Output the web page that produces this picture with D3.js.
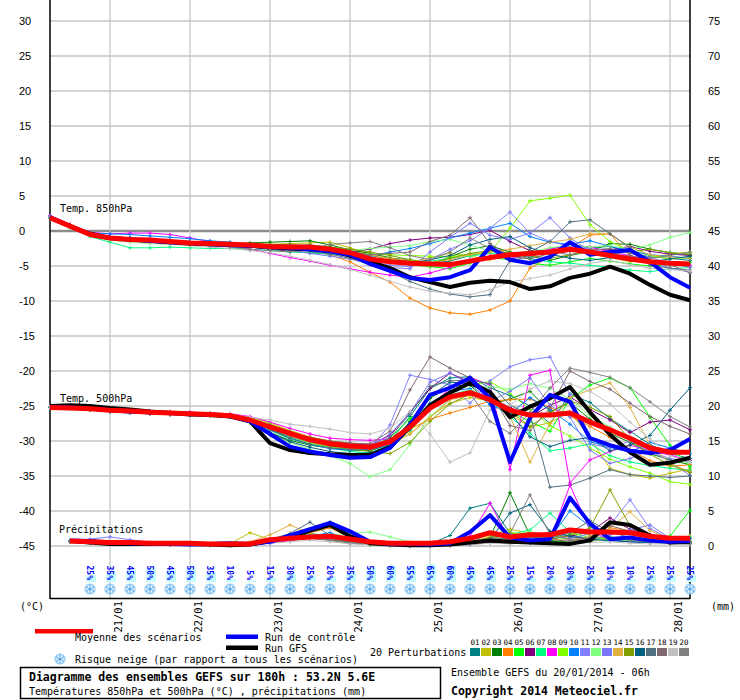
<!DOCTYPE html>
<html><head><meta charset="utf-8">
<script src="https://cdn.jsdelivr.net/npm/d3@7"></script>
<style>body{margin:0;background:#fff}svg{display:block}</style>
</head><body>
<svg id="c" width="740" height="700"></svg>
<script>
// ---------- DATA ----------
const hours = [0,6,12,18,24,30,36,42,48,54,60,66,72,78,84,90,96,102,108,114,120,126,132,138,144,150,156,162,168,174,180,186,192];
const dateLabels = ["21/01","22/01","23/01","24/01","25/01","26/01","27/01","28/01"];
const dateHours = [18,42,66,90,114,138,162,186];
const leftTicks = [30,25,20,15,10,5,0,-5,-10,-15,-20,-25,-30,-35,-40,-45];
const rightTicks = [75,70,65,60,55,50,45,40,35,30,25,20,15,10,5,0];
const pertColors = ["#008080","#c0c000","#008000","#ff8000","#00ff00","#800080","#00ff80","#ff00ff","#80ff00","#0080ff","#8080ff","#80ff80","#7878f8","#e0b040","#80a000","#006080","#507080","#806870","#c0c0c0","#808080"];
const pertLabels = ["01","02","03","04","05","06","07","08","09","10","11","12","13","14","15","16","17","18","19","20"];

const mean850 = [1.9,0.7,-0.5,-1.0,-1.2,-1.3,-1.5,-1.7,-1.8,-1.9,-2.0,-2.2,-2.3,-2.3,-2.6,-3.1,-4.0,-4.4,-4.6,-4.7,-4.8,-4.3,-3.8,-3.4,-3.2,-3.0,-2.6,-3.0,-3.5,-4.0,-4.4,-4.6,-4.7];
const ctrl850 = [2.0,0.7,-0.5,-1.0,-1.2,-1.4,-1.6,-1.7,-1.9,-2.0,-2.1,-2.3,-2.4,-2.6,-2.9,-3.4,-4.7,-5.7,-6.7,-7.0,-6.6,-5.6,-2.3,-4.1,-4.6,-3.7,-1.6,-3.4,-3.0,-2.7,-4.4,-6.6,-8.1];
const gfs850 = [1.9,0.7,-0.4,-1.0,-1.2,-1.4,-1.6,-1.8,-1.9,-2.0,-2.1,-2.3,-2.5,-2.6,-2.8,-3.5,-4.4,-5.3,-6.6,-7.3,-8.0,-7.4,-7.1,-7.3,-8.3,-7.9,-6.7,-6.1,-5.1,-6.1,-7.7,-9.1,-9.9];
const pert850 = [
[2.0,0.8,-0.4,-0.9,-1.0,-1.2,-1.4,-1.5,-1.6,-1.8,-1.9,-2.0,-2.1,-2.0,-2.3,-2.8,-3.5,-3.9,-4.1,-4.6,-4.3,-3.5,-2.9,-3.2,-3.8,-2.6,-1.9,-2.4,-2.2,-3.1,-3.7,-3.9,-4.2],
[2.1,0.7,-0.5,-1.1,-1.3,-1.4,-1.5,-1.7,-1.7,-1.8,-1.9,-1.9,-1.8,-1.7,-1.6,-2.4,-3.3,-4.0,-4.5,-3.8,-3.2,-3.6,-4.1,-3.4,-2.8,-3.1,-2.5,-3.3,-3.8,-4.4,-3.9,-3.3,-3.0],
[1.9,0.6,-0.6,-1.2,-1.4,-1.5,-1.6,-1.8,-1.9,-1.9,-1.7,-1.6,-1.5,-1.4,-2.0,-2.7,-3.2,-3.8,-4.4,-4.9,-3.7,-2.6,-2.1,-3.0,-3.6,-4.2,-3.5,-2.9,-1.8,-1.9,-2.6,-3.1,-3.4],
[2.0,0.7,-0.5,-1.0,-1.2,-1.4,-1.6,-1.7,-1.9,-2.0,-2.1,-2.3,-2.5,-2.8,-3.4,-4.4,-5.9,-7.3,-9.6,-11.0,-11.7,-11.9,-11.3,-10.0,-5.3,-3.7,-2.5,-0.6,-0.4,-3.6,-4.5,-4.8,-5.0],
[2.0,0.8,-0.3,-0.9,-1.3,-1.5,-1.7,-1.9,-2.0,-2.1,-2.3,-2.6,-2.9,-3.1,-3.3,-3.5,-3.9,-4.3,-4.8,-5.1,-5.4,-4.6,-3.8,-4.1,-4.6,-4.9,-4.4,-3.9,-4.3,-4.7,-5.0,-4.8,-4.5],
[2.1,0.9,-0.3,-0.8,-1.0,-1.2,-1.4,-1.6,-1.8,-2.0,-2.3,-2.6,-2.9,-3.1,-3.2,-3.0,-2.6,-1.8,-1.3,-1.0,-0.9,-0.5,0.1,-1.5,-2.8,-3.2,-2.9,-2.6,-2.7,-2.2,-2.9,-3.3,-3.5],
[1.8,0.5,-0.8,-1.6,-2.4,-2.4,-2.3,-2.4,-2.5,-2.5,-2.6,-2.8,-3.0,-3.1,-3.3,-3.6,-4.0,-4.6,-4.8,-4.3,-3.9,-3.6,-3.2,-3.5,-4.0,-4.4,-4.6,-4.9,-5.2,-5.6,-5.8,-5.4,-5.2],
[2.2,0.9,-0.2,-0.4,-0.3,-0.3,-0.5,-1.0,-1.5,-2.0,-2.6,-3.2,-3.8,-4.3,-4.9,-5.4,-5.9,-6.3,-6.6,-6.0,-5.2,-4.1,-3.6,-3.9,-3.2,-2.6,-2.0,-2.3,-3.0,-3.5,-4.2,-4.6,-4.9],
[2.0,0.7,-0.5,-1.1,-1.4,-1.6,-1.8,-1.9,-2.0,-2.1,-2.1,-2.2,-2.3,-2.5,-2.7,-3.0,-3.3,-3.4,-3.5,-3.6,-3.7,-3.3,-3.0,0.4,4.3,4.7,5.1,0.9,-1.5,-2.8,-3.5,-4.0,-3.8],
[2.1,0.8,-0.3,-0.4,-0.5,-0.7,-0.9,-1.1,-1.4,-1.6,-1.9,-2.1,-2.3,-2.5,-2.8,-3.2,-3.6,-3.0,-2.5,-1.8,-1.0,-0.3,0.4,1.1,-0.8,-1.6,-1.9,-1.4,-2.2,-2.8,-3.4,-3.6,-3.9],
[2.0,0.7,-0.6,-1.2,-1.5,-1.7,-1.9,-2.0,-2.1,-2.2,-2.3,-2.5,-2.7,-2.9,-3.2,-3.7,-4.3,-4.9,-5.1,-4.1,-2.6,-1.4,0.4,2.7,-0.3,-1.5,-2.2,-2.6,-3.1,-3.7,-4.3,-5.3,-5.9],
[1.9,0.6,-0.7,-1.3,-1.6,-1.8,-1.9,-2.0,-2.1,-2.2,-2.3,-2.4,-2.6,-2.8,-3.0,-2.8,-2.5,-2.3,-2.1,-1.5,-1.2,-2.0,-2.9,-3.5,-3.0,-2.4,-2.0,-2.3,-2.1,-2.6,-2.0,-0.9,-0.2],
[2.0,0.7,-0.4,-1.0,-1.2,-1.3,-1.4,-1.6,-1.8,-2.0,-2.2,-2.4,-2.8,-3.2,-3.6,-4.0,-4.6,-5.2,-5.4,-3.0,-0.9,1.1,-0.6,-1.2,-0.3,1.9,-1.0,-2.9,-3.3,-3.0,-3.8,-4.6,-5.2],
[2.0,0.8,-0.4,-1.0,-1.3,-1.5,-1.6,-1.7,-1.8,-1.9,-2.0,-2.1,-2.2,-2.3,-2.6,-3.0,-3.4,-3.9,-4.2,-4.5,-4.1,-3.4,-3.0,-2.6,-2.1,-1.6,-1.2,-0.4,-0.4,-2.3,-3.4,-3.7,-3.9],
[1.9,0.6,-0.5,-1.0,-1.2,-1.4,-1.5,-1.6,-1.7,-1.8,-1.8,-1.9,-2.0,-2.1,-2.3,-2.6,-3.0,-3.5,-4.1,-4.6,-3.9,-3.2,-2.8,-3.1,-3.5,-3.9,-3.4,-2.9,-3.2,-3.0,-2.6,-3.1,-3.3],
[2.0,0.7,-0.5,-1.1,-1.3,-1.5,-1.7,-1.9,-2.0,-2.1,-2.2,-2.3,-2.4,-2.6,-2.9,-3.3,-3.8,-4.2,-4.6,-4.1,-3.5,-2.0,-1.2,-0.8,-2.4,-3.3,-3.9,-4.2,-3.8,-4.1,-4.4,-4.0,-3.6],
[2.0,0.7,-0.5,-1.0,-1.2,-1.4,-1.6,-1.8,-1.9,-2.0,-2.2,-2.4,-2.6,-2.9,-3.3,-3.9,-4.8,-5.8,-7.2,-8.3,-9.0,-9.4,-9.1,-4.2,-3.0,-1.5,1.3,1.6,-0.4,-2.4,-4.9,-5.3,-5.6],
[2.0,0.8,-0.4,-0.9,-1.1,-1.3,-1.5,-1.6,-1.7,-1.8,-1.9,-2.0,-2.0,-2.1,-2.4,-2.9,-3.4,-3.2,-3.0,-1.5,-0.6,1.9,-1.8,-3.6,-4.0,-3.2,-2.5,-3.1,-3.7,-3.5,-4.2,-4.8,-6.0],
[2.0,0.6,-0.6,-1.2,-1.5,-1.7,-1.9,-2.1,-2.3,-2.5,-2.8,-3.1,-3.6,-4.2,-4.8,-5.5,-6.3,-7.2,-8.0,-8.6,-8.9,-9.1,-8.4,-7.3,-6.8,-6.3,-5.4,-4.6,-4.2,-4.8,-5.3,-5.5,-5.7],
[2.0,0.7,-0.5,-1.0,-1.2,-1.4,-1.6,-1.8,-2.0,-2.3,-2.6,-2.8,-3.0,-2.6,-1.9,-1.7,-1.5,-2.4,-3.5,-4.1,-3.0,-1.0,-2.5,-4.3,-3.6,-2.9,-3.4,-2.7,-2.5,-3.2,-3.9,-3.5,-3.0]
];

const mean500 = [-25.2,-25.3,-25.4,-25.6,-25.7,-25.9,-26.0,-26.1,-26.2,-26.4,-27.0,-28.0,-28.9,-29.8,-30.4,-30.7,-30.9,-30.1,-28.0,-25.3,-23.7,-23.1,-24.1,-25.6,-26.3,-26.3,-26.0,-27.3,-28.4,-29.6,-31.0,-31.6,-31.6];
const ctrl500 = [-25.1,-25.2,-25.4,-25.6,-25.8,-25.9,-26.0,-26.1,-26.2,-26.4,-27.2,-29.0,-30.8,-31.5,-32.0,-32.4,-32.3,-31.0,-27.7,-23.4,-22.4,-21.0,-23.9,-33.0,-26.7,-23.4,-24.4,-29.6,-30.6,-31.4,-31.7,-31.3,-29.7];
const gfs500 = [-25.0,-24.9,-25.0,-25.3,-25.5,-25.8,-26.0,-26.2,-26.3,-26.5,-27.2,-30.3,-31.3,-31.7,-31.9,-32.0,-32.0,-30.9,-28.0,-24.9,-23.1,-21.7,-23.0,-26.6,-25.1,-23.9,-22.3,-25.9,-29.1,-31.6,-33.4,-33.1,-32.4];
const pert500 = [
[-25.1,-25.2,-25.5,-25.8,-25.9,-26.0,-26.1,-26.2,-26.3,-26.4,-27.0,-28.3,-29.4,-30.2,-30.8,-31.0,-31.2,-30.0,-26.5,-22.5,-21.0,-20.8,-22.4,-23.5,-25.0,-27.5,-23.3,-24.5,-26.8,-28.6,-30.5,-31.8,-32.5],
[-25.2,-25.3,-25.4,-25.6,-25.8,-25.9,-26.0,-26.0,-26.1,-26.2,-26.6,-27.4,-28.5,-29.4,-30.0,-30.4,-30.6,-30.3,-29.0,-26.5,-24.6,-23.8,-24.3,-26.2,-28.0,-27.4,-25.8,-29.6,-33.9,-34.8,-35.3,-34.6,-34.0],
[-25.1,-25.3,-25.5,-25.7,-25.8,-26.0,-26.1,-26.2,-26.3,-26.5,-27.3,-28.8,-29.9,-30.6,-31.0,-31.3,-31.4,-30.5,-27.2,-23.9,-22.2,-22.0,-24.8,-24.0,-22.9,-25.8,-24.5,-26.9,-28.9,-30.2,-31.8,-32.7,-33.4],
[-25.2,-25.2,-25.4,-25.6,-25.7,-25.8,-25.9,-26.0,-26.1,-26.3,-27.0,-27.9,-28.8,-29.5,-30.0,-30.3,-30.5,-29.8,-28.3,-26.9,-26.0,-25.2,-24.3,-24.1,-24.0,-25.2,-26.5,-27.9,-29.5,-31.2,-32.8,-33.6,-33.4],
[-25.1,-25.2,-25.4,-25.6,-25.8,-25.9,-26.0,-26.1,-26.2,-26.4,-27.1,-28.3,-29.6,-30.4,-30.9,-31.2,-31.1,-29.6,-26.8,-24.8,-23.5,-22.9,-24.0,-25.8,-27.2,-28.6,-24.0,-22.0,-21.0,-22.4,-26.6,-30.6,-33.7],
[-25.2,-25.3,-25.5,-25.7,-25.8,-26.0,-26.1,-26.1,-26.2,-26.3,-26.8,-27.9,-28.9,-29.7,-30.1,-30.4,-30.6,-29.2,-25.9,-22.5,-20.3,-21.6,-23.8,-25.2,-26.6,-24.9,-23.7,-25.5,-27.0,-28.8,-27.3,-27.0,-28.4],
[-25.1,-25.3,-25.5,-25.8,-25.9,-26.0,-26.2,-26.3,-26.4,-26.5,-27.2,-28.5,-29.7,-30.5,-31.0,-31.5,-31.7,-30.9,-27.9,-25.0,-23.4,-22.7,-24.4,-26.5,-28.9,-31.4,-31.0,-30.4,-32.1,-33.0,-33.5,-33.9,-34.2],
[-25.2,-25.2,-25.3,-25.5,-25.6,-25.7,-25.8,-25.9,-26.0,-26.1,-26.5,-27.3,-28.2,-29.0,-29.6,-29.8,-29.9,-29.7,-28.5,-25.0,-22.5,-20.9,-22.0,-34.1,-20.6,-19.9,-36.0,-32.7,-31.5,-30.6,-31.4,-32.0,-32.8],
[-25.1,-25.2,-25.4,-25.6,-25.7,-25.8,-25.9,-26.0,-26.1,-26.2,-26.7,-27.6,-28.6,-29.5,-30.1,-30.5,-30.8,-30.2,-28.6,-25.4,-23.1,-22.0,-21.5,-23.2,-25.5,-27.8,-29.3,-31.0,-32.6,-33.7,-34.6,-35.8,-36.2],
[-25.2,-25.3,-25.5,-25.7,-25.9,-26.0,-26.1,-26.2,-26.3,-26.4,-27.0,-28.4,-29.6,-30.5,-31.1,-31.3,-31.2,-30.6,-28.4,-24.6,-22.9,-22.5,-24.8,-26.1,-23.8,-25.5,-27.6,-30.1,-30.9,-31.6,-30.2,-31.0,-31.8],
[-25.1,-25.2,-25.4,-25.5,-25.7,-25.9,-26.0,-26.1,-26.2,-26.3,-26.9,-28.0,-29.1,-30.0,-30.5,-30.4,-31.0,-27.7,-20.6,-21.2,-22.0,-24.6,-21.4,-19.4,-18.4,-18.0,-23.4,-30.4,-31.0,-30.0,-31.5,-32.5,-33.0],
[-25.1,-25.3,-25.5,-25.7,-25.9,-26.0,-26.2,-26.3,-26.4,-26.6,-27.4,-28.9,-30.2,-31.2,-32.1,-33.2,-35.1,-34.1,-30.5,-26.5,-24.0,-22.8,-22.2,-22.6,-21.8,-22.5,-24.0,-26.4,-28.0,-29.8,-30.8,-31.5,-33.0],
[-25.2,-25.3,-25.5,-25.6,-25.8,-26.0,-26.1,-26.2,-26.3,-26.5,-27.1,-28.2,-29.2,-30.0,-30.6,-30.9,-30.8,-29.0,-26.0,-21.6,-20.3,-21.9,-24.3,-22.9,-21.0,-24.9,-26.6,-31.3,-33.2,-32.5,-31.3,-33.0,-34.9],
[-25.1,-25.2,-25.4,-25.6,-25.8,-25.9,-26.0,-26.1,-26.2,-26.4,-27.0,-28.1,-29.3,-30.2,-30.8,-31.0,-31.1,-30.4,-29.0,-26.7,-24.1,-23.5,-23.8,-26.5,-33.0,-27.5,-23.8,-22.7,-21.7,-25.2,-30.6,-33.2,-34.4],
[-25.2,-25.3,-25.5,-25.7,-25.8,-25.9,-26.0,-26.1,-26.2,-26.3,-26.9,-28.0,-29.2,-30.1,-30.7,-31.1,-31.5,-31.8,-30.2,-27.2,-24.7,-23.3,-23.6,-25.8,-27.9,-26.0,-24.3,-25.2,-26.5,-29.8,-31.9,-33.4,-34.5],
[-25.1,-25.2,-25.5,-25.7,-25.9,-26.1,-26.2,-26.3,-26.4,-26.5,-27.3,-28.8,-30.1,-30.9,-31.5,-31.8,-31.7,-30.6,-27.4,-23.6,-21.6,-21.8,-23.5,-26.0,-29.4,-30.8,-29.9,-29.5,-31.4,-30.6,-29.2,-25.6,-22.4],
[-25.2,-25.3,-25.5,-25.8,-26.0,-26.1,-26.2,-26.3,-26.4,-26.5,-27.1,-28.4,-29.6,-30.5,-31.0,-31.2,-31.0,-29.5,-26.1,-22.2,-21.4,-21.3,-21.8,-24.9,-26.2,-36.6,-36.3,-35.3,-34.1,-34.8,-35.0,-35.2,-35.0],
[-25.1,-25.2,-25.4,-25.6,-25.7,-25.8,-25.9,-26.0,-26.1,-26.3,-26.8,-27.7,-28.7,-29.5,-30.0,-30.3,-30.4,-28.6,-22.7,-18.0,-19.6,-21.0,-23.0,-27.8,-28.5,-25.3,-20.0,-21.5,-22.6,-24.6,-26.5,-27.9,-29.0],
[-25.1,-25.2,-25.4,-25.5,-25.7,-25.8,-25.9,-26.0,-26.1,-26.2,-26.6,-27.0,-27.6,-27.9,-28.3,-28.8,-29.0,-28.2,-25.8,-29.0,-33.0,-31.7,-25.6,-24.9,-22.6,-21.4,-21.8,-22.9,-24.7,-27.3,-29.7,-32.1,-33.2],
[-25.2,-25.3,-25.4,-25.6,-25.7,-25.9,-26.0,-26.1,-26.2,-26.4,-27.0,-28.1,-29.2,-30.0,-30.5,-30.8,-30.9,-30.0,-28.0,-25.5,-23.9,-23.2,-27.2,-28.9,-25.9,-22.4,-19.6,-20.2,-20.9,-22.4,-24.4,-26.5,-28.0]
];

// precipitation (mm / 6h), from hour 6 to 192
const meanPr = [0.7,0.6,0.5,0.5,0.4,0.4,0.4,0.3,0.3,0.3,0.9,1.1,1.3,1.4,1.0,0.6,0.4,0.4,0.4,0.6,1.1,1.9,1.3,1.6,1.6,2.3,2.0,2.0,1.9,1.4,1.1,1.1];
const ctrlPr = [0.8,0.7,0.5,0.4,0.4,0.3,0.2,0.3,0.4,0.3,0.6,1.5,2.4,3.3,2.1,0.6,0.3,0.3,0.2,0.4,2.0,4.4,1.2,0.8,1.0,6.9,3.2,1.0,1.2,0.8,0.6,0.7];
const gfsPr = [0.7,0.5,0.3,0.3,0.3,0.4,0.3,0.2,0.1,0.2,0.7,1.3,2.2,3.0,1.4,0.4,0.2,0.1,0.1,0.2,0.5,0.8,0.6,0.5,0.4,0.3,0.8,3.4,3.0,1.5,0.5,0.6];
const pertPr = [
[0.6,0.5,0.4,0.4,0.3,0.3,0.2,0.2,0.3,0.4,0.7,1.3,1.8,1.4,0.6,0.3,0.2,0.2,0.3,1.5,5.4,6.1,1.8,1.2,0.9,1.6,1.0,0.7,0.9,0.6,0.5,0.4],
[0.7,0.6,0.5,0.4,0.3,0.3,0.2,0.2,0.3,1.9,0.9,1.1,1.3,0.9,0.4,0.3,0.2,0.1,0.1,0.3,0.9,1.5,2.4,1.8,1.1,2.3,1.5,1.0,1.2,0.9,0.7,0.5],
[0.6,0.5,0.4,0.3,0.3,0.2,0.2,0.2,0.2,0.3,0.6,1.0,1.9,3.4,1.2,0.4,0.2,0.1,0.1,0.2,0.6,1.2,7.6,1.5,0.8,0.5,0.7,1.1,0.8,0.5,0.4,0.3],
[0.7,0.6,0.5,0.5,0.4,0.3,0.3,0.2,0.2,0.3,0.8,1.4,1.9,2.6,1.3,0.5,0.3,0.2,0.1,0.1,0.3,0.7,1.0,1.4,1.8,1.2,0.9,2.6,2.2,1.6,1.0,1.4],
[0.6,0.5,0.4,0.3,0.3,0.2,0.2,0.1,0.1,0.2,0.5,0.9,1.3,1.0,0.4,0.2,0.1,0.1,0.1,0.2,0.4,0.8,0.6,1.0,0.7,0.5,0.9,1.3,1.0,0.9,1.4,5.1],
[0.7,0.6,0.5,0.4,0.4,0.3,0.3,0.2,0.2,0.2,0.4,0.8,1.1,0.9,0.5,0.3,0.2,0.1,0.1,0.1,0.2,0.5,0.4,0.7,1.0,1.4,2.0,4.0,2.4,1.5,0.9,0.6],
[0.6,0.5,0.4,0.4,0.3,0.3,0.2,0.2,0.2,0.3,0.7,1.1,1.5,1.2,0.6,0.3,0.2,0.2,0.1,0.2,0.4,1.0,1.6,2.3,4.7,2.0,1.2,0.8,0.9,0.7,0.5,0.4],
[0.7,0.5,0.4,0.3,0.3,0.2,0.2,0.1,0.1,0.2,0.4,0.8,1.3,1.0,0.5,0.3,0.2,0.1,0.1,0.3,1.4,6.1,0.8,0.5,0.9,8.7,2.2,0.8,0.6,0.5,0.4,0.3],
[0.6,0.6,0.5,0.4,0.3,0.3,0.2,0.2,0.2,0.3,0.9,1.7,1.2,0.8,0.4,0.2,0.1,0.1,0.1,0.2,0.5,1.1,2.0,1.5,1.2,1.8,1.3,1.0,0.7,0.9,0.6,0.5],
[0.8,0.6,0.5,0.4,0.4,0.3,0.3,0.2,0.2,0.3,0.5,0.9,1.4,1.9,0.9,0.4,0.2,0.2,0.1,0.2,0.3,0.9,0.6,0.4,1.1,5.0,2.8,0.9,0.6,0.5,0.4,0.5],
[0.7,1.0,1.3,0.9,0.5,0.3,0.2,0.2,0.2,0.2,0.5,1.0,1.2,0.9,0.6,0.3,0.2,0.2,0.1,0.2,0.4,0.8,1.3,1.1,1.5,1.0,1.8,3.0,6.6,2.5,1.0,0.7],
[0.6,0.5,0.4,0.3,0.3,0.2,0.2,0.2,0.2,0.4,0.8,1.3,1.5,1.6,1.8,2.0,1.3,0.6,0.3,0.3,0.5,0.9,1.4,2.1,1.3,0.9,0.7,1.0,0.8,0.7,1.0,1.4],
[0.6,0.5,0.4,0.4,0.3,0.2,0.2,0.2,0.2,0.3,0.6,0.9,1.6,1.3,0.6,0.3,0.2,0.1,0.1,0.2,0.4,1.9,0.9,1.2,2.0,1.3,0.9,1.6,2.3,3.0,1.1,0.6],
[0.7,0.6,0.5,0.4,0.3,0.3,0.2,0.2,0.3,0.6,1.6,3.0,1.8,1.1,0.5,0.3,0.2,0.1,0.1,0.2,0.6,1.3,0.9,1.6,1.0,0.8,1.4,2.5,4.9,2.2,1.0,0.6],
[0.6,0.5,0.4,0.3,0.3,0.2,0.2,0.2,0.2,0.3,0.7,1.2,1.5,1.1,0.5,0.3,0.2,0.1,0.1,0.2,0.5,1.2,1.8,1.4,1.0,1.5,2.6,8.0,2.9,1.2,0.8,0.5],
[0.6,0.6,0.5,0.4,0.3,0.3,0.2,0.2,0.2,0.3,0.6,1.0,1.4,1.2,0.5,0.3,0.2,0.2,0.1,0.2,0.3,0.9,4.7,5.9,2.1,1.4,1.0,0.8,0.6,0.5,0.8,1.1],
[0.7,0.6,0.5,0.4,0.3,0.3,0.2,0.2,0.2,0.3,0.9,1.8,3.4,1.5,0.6,0.3,0.2,0.1,0.1,0.2,0.4,0.9,1.2,0.8,1.1,1.9,3.6,2.0,1.2,0.9,0.6,0.4],
[0.6,0.5,0.4,0.3,0.3,0.2,0.2,0.2,0.2,0.3,0.6,0.9,1.1,0.8,0.4,0.2,0.1,0.1,0.1,0.2,0.3,0.6,1.0,1.3,0.9,0.7,1.2,2.9,2.1,1.6,0.9,0.6],
[0.5,0.4,0.3,0.3,0.2,0.2,0.1,0.1,0.1,0.2,0.4,0.6,0.8,0.6,0.3,0.2,0.1,0.1,0.0,0.1,0.2,0.4,0.3,0.5,0.4,0.3,0.5,0.6,0.4,0.3,0.3,0.2],
[0.6,0.5,0.4,0.3,0.3,0.2,0.2,0.2,0.2,0.3,0.6,1.1,1.4,1.0,0.5,0.3,0.2,0.1,0.1,0.2,0.4,1.0,1.8,7.3,1.6,0.9,0.7,1.1,0.8,0.6,0.4,0.3]
];
const prHours = hours.slice(1);

// snow risk (% of scenarios), hour 12 to 192
const snowHours = hours.slice(2);
const snowPct = [25,35,45,50,45,50,35,10,5,15,30,25,20,35,50,60,55,65,60,45,45,25,15,20,30,25,10,10,25,25,25];

// ---------- DRAW ----------
const svg = d3.select("#c");
svg.append("rect").attr("width",740).attr("height",700).attr("fill","#fff");
const x = d3.scaleLinear().domain([0,192]).range([50,690]);
const y = d3.scaleLinear().domain([-45,30]).range([546,21]);
const yR = d3.scaleLinear().domain([0,75]).range([546,21]);
const mono = "'DejaVu Sans Mono', 'Liberation Mono', monospace";
const sans = "'Liberation Sans', Arial, sans-serif";

// grid
const grid = svg.append("g");
leftTicks.forEach(v=>{
  grid.append("line").attr("x1",50).attr("x2",690).attr("y1",y(v)).attr("y2",y(v))
    .attr("stroke", v===0 ? "#8c8c8c" : "#c4c4c4").attr("stroke-width", v===0 ? 2.5 : 1.5);
});
dateHours.forEach(h=>{
  grid.append("line").attr("x1",x(h)).attr("x2",x(h)).attr("y1",0).attr("y2",598)
    .attr("stroke","#c4c4c4").attr("stroke-width",1.2);
});

// axes ticks labels
const axL = d3.axisLeft(y).tickValues(leftTicks).tickSize(0).tickFormat(d=>d);
const gL = svg.append("g").attr("transform","translate(20,0)").call(axL);
gL.select(".domain").remove();
gL.selectAll("text").attr("text-anchor","start").attr("x",-1).attr("dy","0.35em")
  .style("font-family",sans).style("font-size","11px").attr("fill","#000");
const axR = d3.axisRight(yR).tickValues(rightTicks).tickSize(0).tickFormat(d=>d);
const gR = svg.append("g").attr("transform","translate(708,0)").call(axR);
gR.select(".domain").remove();
gR.selectAll("text").attr("x",0).attr("dy","0.35em")
  .style("font-family",sans).style("font-size","11px").attr("fill","#000");

// frame
svg.append("line").attr("x1",50).attr("x2",50).attr("y1",0).attr("y2",599).attr("stroke","#000").attr("stroke-width",1.5);
svg.append("line").attr("x1",690).attr("x2",690).attr("y1",0).attr("y2",599).attr("stroke","#000").attr("stroke-width",1.5);
svg.append("line").attr("x1",50).attr("x2",690).attr("y1",598.5).attr("y2",598.5).attr("stroke","#000").attr("stroke-width",1.5);

// date labels
dateLabels.forEach((t,i)=>{
  svg.append("text").attr("transform",`translate(${x(dateHours[i])+12},601) rotate(-90)`)
    .attr("text-anchor","end").style("font-family",mono).style("font-size","10.5px").text(t);
});
svg.append("text").attr("x",20).attr("y",610).style("font-family",mono).style("font-size","10px").text("(°C)");
svg.append("text").attr("x",711).attr("y",610).style("font-family",mono).style("font-size","10px").text("(mm)");

// section labels
svg.append("text").attr("x",60).attr("y",212).style("font-family",mono).style("font-size","10px").text("Temp. 850hPa");
svg.append("text").attr("x",60).attr("y",402).style("font-family",mono).style("font-size","10px").text("Temp. 500hPa");
svg.append("text").attr("x",59).attr("y",533).style("font-family",mono).style("font-size","10px").text("Précipitations");

// series drawing
const lineT = d3.line().x((d,i)=>x(hours[i])).y(d=>y(d));
const lineP = d3.line().x((d,i)=>x(prHours[i])).y(d=>yR(d));
const plot = svg.append("g");
function pert(arr, hrs, sc, col){
  const g = plot.append("g");
  g.append("path").attr("d", d3.line().x((d,i)=>x(hrs[i])).y(d=>sc(d))(arr))
    .attr("fill","none").attr("stroke",col).attr("stroke-width",1);
  arr.forEach((d,i)=>{
    const px = x(hrs[i]), py = sc(d);
    g.append("path").attr("d",`M${px-2},${py}H${px+2}M${px},${py-2}V${py+2}`)
      .attr("stroke",col).attr("stroke-width",1);
  });
}
pert850.forEach((a,k)=>pert(a,hours,y,pertColors[k]));
pert500.forEach((a,k)=>pert(a,hours,y,pertColors[k]));
pertPr.forEach((a,k)=>pert(a,prHours,yR,pertColors[k]));

function main(arr, gen, col, w){
  plot.append("path").attr("d",gen(arr)).attr("fill","none").attr("stroke",col)
    .attr("stroke-width",w).attr("stroke-linejoin","round");
}
[[gfs850,lineT],[gfs500,lineT],[gfsPr,lineP]].forEach(s=>main(s[0],s[1],"#000",4));
[[ctrl850,lineT],[ctrl500,lineT],[ctrlPr,lineP]].forEach(s=>main(s[0],s[1],"#0000ff",4));
[[mean850,lineT],[mean500,lineT],[meanPr,lineP]].forEach(s=>main(s[0],s[1],"#ff0000",5));

// snowflake icon
function flake(g, cx, cy){
  const f = g.append("g").attr("transform",`translate(${cx},${cy})`);
  f.append("circle").attr("r",5.5).attr("fill","#8ec8f2");
  [0,60,120].forEach(a=>{
    f.append("line").attr("x1",-4.5).attr("x2",4.5).attr("y1",0).attr("y2",0)
      .attr("transform",`rotate(${a})`).attr("stroke","#ffffff").attr("stroke-width",1);
  });
  f.append("circle").attr("r",1.6).attr("fill","#4a9ee0");
}

// snow risk row
const snow = svg.append("g");
snowPct.forEach((p,i)=>{
  const cx = x(snowHours[i]);
  snow.append("rect").attr("x",cx-4).attr("width",10).attr("y",582-p*0.27).attr("height",p*0.27).attr("fill","#c4ffff");
  snow.append("text").attr("transform",`translate(${cx-3},580) rotate(90)`)
    .attr("text-anchor","end").style("font-family",mono).style("font-size","8px").style("font-weight","bold")
    .attr("fill","#0000ff").text(p+"%");
  flake(snow, cx, 589);
});

// legend
const lg = svg.append("g");
lg.append("rect").attr("x",35).attr("y",629).attr("width",58).attr("height",4.5).attr("fill","#ff0000");
lg.append("text").attr("x",75).attr("y",641).style("font-family",mono).style("font-size","10px").text("Moyenne des scénarios");
lg.append("rect").attr("x",226).attr("y",634.5).attr("width",32).attr("height",4.5).attr("fill","#0000ff");
lg.append("text").attr("x",265).attr("y",641).style("font-family",mono).style("font-size","10px").text("Run de contrôle");
lg.append("rect").attr("x",226).attr("y",645.5).attr("width",32).attr("height",4.5).attr("fill","#000");
lg.append("text").attr("x",265).attr("y",652).style("font-family",mono).style("font-size","10px").text("Run GFS");
flake(lg, 60, 659);
lg.append("text").attr("x",75).attr("y",663).style("font-family",mono).style("font-size","10px").text("Risque neige (par rapport a tous les scénarios)");
lg.append("text").attr("x",370).attr("y",656).style("font-family",mono).style("font-size","10px").text("20 Perturbations");
pertColors.forEach((c,k)=>{
  lg.append("rect").attr("x",470+k*11).attr("y",648).attr("width",10).attr("height",8).attr("fill",c);
  lg.append("text").attr("x",470+k*11+5).attr("y",645).attr("text-anchor","middle")
    .style("font-family",mono).style("font-size","7.5px").text(pertLabels[k]);
});

// title box
svg.append("rect").attr("x",20.5).attr("y",667.5).attr("width",420).attr("height",31).attr("fill","none").attr("stroke","#000").attr("stroke-width",1.5);
svg.append("text").attr("x",29).attr("y",681).style("font-family",mono).style("font-size","11.5px").style("font-weight","bold")
  .text("Diagramme des ensembles GEFS sur 180h : 53.2N 5.6E");
svg.append("text").attr("x",29).attr("y",695).style("font-family",mono).style("font-size","10px")
  .text("Températures 850hPa et 500hPa (°C) , précipitations (mm)");
svg.append("text").attr("x",451).attr("y",676).style("font-family",mono).style("font-size","10px")
  .text("Ensemble GEFS du 20/01/2014 - 06h");
svg.append("text").attr("x",451).attr("y",695).style("font-family",mono).style("font-size","11.5px").style("font-weight","bold")
  .text("Copyright 2014 Meteociel.fr");
</script>
</body></html>
